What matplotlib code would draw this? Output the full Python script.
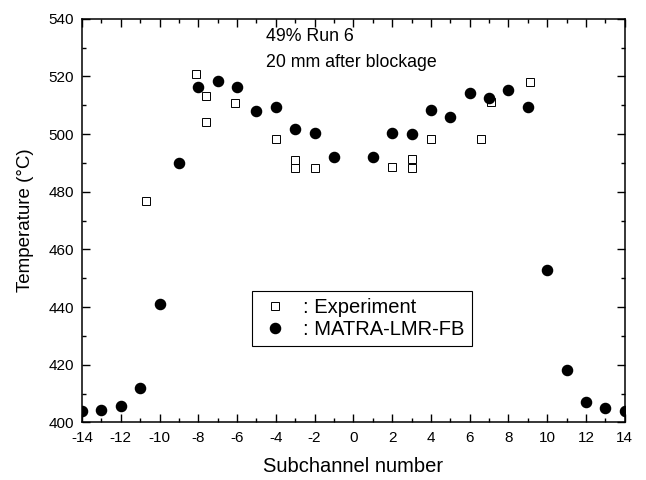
import matplotlib
matplotlib.use('Agg')
import matplotlib.pyplot as plt
from matplotlib.ticker import MultipleLocator

plt.rcParams['font.family'] = ['Liberation Sans', 'DejaVu Sans']
plt.rcParams['axes.unicode_minus'] = False

# MATRA-LMR-FB calculation
calc_x = [-14, -13, -12, -11, -10, -9, -8, -7, -6, -5, -4, -3, -2, -1,
          1, 2, 3, 4, 5, 6, 7, 8, 9, 10, 11, 12, 13, 14]
calc_t = [403.8, 404.3, 405.7, 411.9, 441.2, 489.9, 516.2, 518.5, 516.2, 508.1,
          509.4, 501.6, 500.2, 492.1, 492.1, 500.5, 500.0, 508.3, 506.0, 514.2,
          512.6, 515.3, 509.3, 452.7, 418.3, 407.1, 404.9, 403.8]

# Experiment
exp_x = [-10.7, -8.1, -7.6, -7.6, -6.1, -4.0, -3.0, -3.0, -2.0,
         2.0, 3.0, 3.0, 4.0, 6.6, 7.1, 9.1]
exp_t = [476.9, 520.8, 513.3, 504.3, 510.8, 498.2, 491.0, 488.3, 488.3,
         488.6, 491.2, 488.4, 498.3, 498.3, 511.2, 518.0]

fig = plt.figure(figsize=(6.46, 4.80), dpi=100)
ax = fig.add_axes([0.127, 0.12, 0.840, 0.841])

ax.plot(exp_x, exp_t, linestyle='none', marker='s', markersize=5.2,
        markerfacecolor='white', markeredgecolor='black', markeredgewidth=0.7,
        label=': Experiment', zorder=3)
ax.plot(calc_x, calc_t, linestyle='none', marker='o', markersize=7.3,
        color='black', label=': MATRA-LMR-FB', zorder=4)

ax.set_xlim(-14, 14)
ax.set_ylim(400, 540)
ax.xaxis.set_major_locator(MultipleLocator(2))
ax.xaxis.set_minor_locator(MultipleLocator(1))
ax.yaxis.set_major_locator(MultipleLocator(20))
ax.yaxis.set_minor_locator(MultipleLocator(10))
ax.tick_params(which='both', direction='in', top=True, right=True, width=1.0)
ax.tick_params(which='major', length=6, labelsize=11, pad=6)
ax.tick_params(which='minor', length=3)
for s in ax.spines.values():
    s.set_linewidth(1.1)

ax.set_xlabel('Subchannel number', fontsize=14.5, labelpad=9)
ax.set_ylabel('Temperature (°C)', fontsize=13.5, labelpad=10)

ax.text(0.339, 0.978, '49% Run 6\n20 mm after blockage', transform=ax.transAxes,
        fontsize=12.8, va='top', ha='left', linespacing=1.75)

leg = ax.legend(loc='upper left', bbox_to_anchor=(0.313, 0.325), fontsize=14.5,
                frameon=True, fancybox=False, edgecolor='black', framealpha=1,
                handletextpad=0.6, handlelength=1.6, borderpad=0.35,
                borderaxespad=0, labelspacing=0.12)
leg.get_frame().set_linewidth(0.8)

fig.savefig('out.png', dpi=100)
